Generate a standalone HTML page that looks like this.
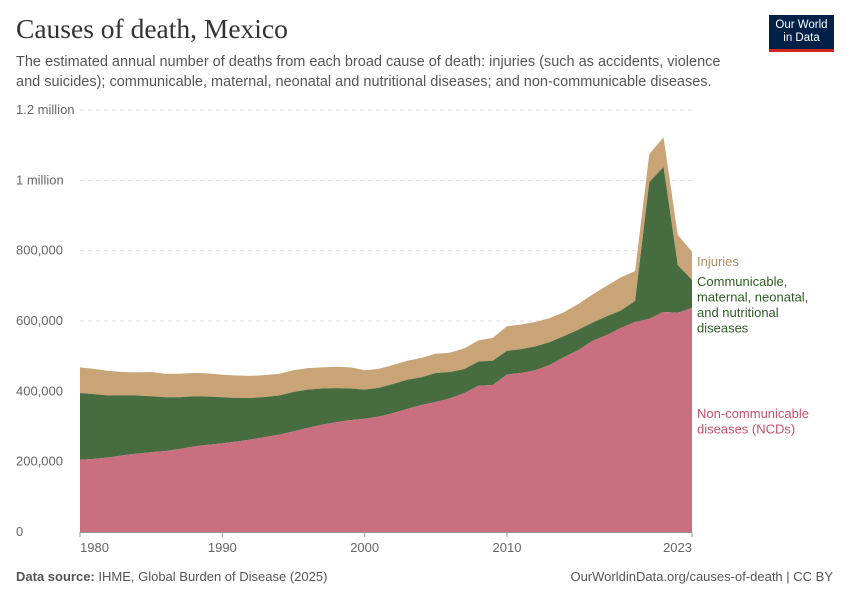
<!DOCTYPE html>
<html><head><meta charset="utf-8"><style>
body{margin:0;background:#fff;font-family:"Liberation Sans",sans-serif;}
#wrap{position:relative;width:850px;height:600px;overflow:hidden;}
.t{position:absolute;white-space:nowrap;}
</style></head><body>
<div id="wrap">
<div class="t" style="left:16px;top:13px;font-family:'Liberation Serif',serif;font-size:27.5px;color:#333;">Causes of death, Mexico</div>
<div class="t" style="left:16px;top:52px;font-size:14.5px;color:#555;line-height:20px;">The estimated annual number of deaths from each broad cause of death: injuries (such as accidents, violence<br>and suicides); communicable, maternal, neonatal and nutritional diseases; and non-communicable diseases.</div>
<div style="position:absolute;left:769px;top:15px;width:65px;height:37px;background:#002147;border-bottom:3px solid #ce261e;color:#fff;font-size:11.5px;line-height:13px;text-align:center;padding-top:4px;box-sizing:border-box;">Our World<br>in Data</div>
<svg id="chart" width="850" height="600" style="position:absolute;left:0;top:0"></svg>
<div class="t" style="left:16px;top:569px;font-size:13px;color:#555;"><b>Data source:</b> IHME, Global Burden of Disease (2025)</div>
<div class="t" style="right:17px;top:569px;font-size:13px;color:#555;">OurWorldinData.org/causes-of-death | CC BY</div>
</div>
<script>
const years=[1980,1981,1982,1983,1984,1985,1986,1987,1988,1989,1990,1991,1992,1993,1994,1995,1996,1997,1998,1999,2000,2001,2002,2003,2004,2005,2006,2007,2008,2009,2010,2011,2012,2013,2014,2015,2016,2017,2018,2019,2020,2021,2022,2023];
const ncd=[205,208,212,218,223,227,230,236,243,248,252,257,263,270,277,286,296,305,312,318,322,328,338,350,361,370,380,395,416,418,448,452,460,475,497,517,543,560,580,597,606,626,623,637];
const communicable=[190,184,176,171,165,159,153,147,143,137,131,124,118,114,111,112,109,103,97,90,83,82,83,83,79,82,75,68,69,69,67,68,68,65,60,58,52,53,50,60,389,412,136,80];
const injuries=[73,72,70,66,66,69,67,67,66,66,64,64,63,62,62,62,61,60,61,60,55,54,54,54,55,55,55,59,60,65,70,70,69,68,68,73,80,87,94,85,80,84,86,80];
const yTicks=[0,200000,400000,600000,800000,1000000,1200000];
const yTickLabels=["0","200,000","400,000","600,000","800,000","1 million","1.2 million"];
const xTicks=[1980,1990,2000,2010,2023];
const NS="http://www.w3.org/2000/svg";
const svg=document.getElementById('chart');
const X=y=>80+(y-1980)*(612/43);
const Y=v=>532-v*(422/1200000);
function mk(tag,attrs){const e=document.createElementNS(NS,tag);for(const k in attrs)e.setAttribute(k,attrs[k]);svg.appendChild(e);return e;}
yTicks.forEach((t,i)=>{
  if(t>0){const g=mk('line',{x1:80,x2:692,y1:Y(t),y2:Y(t),stroke:'#ddd','stroke-dasharray':'4,4'});
  
  }
  const tx=mk('text',{x:16,y:Y(t)+4,'font-size':13,fill:'#666','font-family':'Liberation Sans'});
  tx.textContent=yTickLabels[i];
  
  
});
const base=years.map(()=>0);
const l1=ncd.map(v=>v*1000);
const l2=l1.map((v,i)=>v+communicable[i]*1000);
const l3=l2.map((v,i)=>v+injuries[i]*1000);
function area(lo,hi,color,name){
  let d='M'+years.map((y,i)=>X(y)+','+Y(hi[i])).join('L');
  for(let i=years.length-1;i>=0;i--)d+='L'+X(years[i])+','+Y(lo[i]);
  const p=mk('path',{d:d+'Z',fill:color});
  
  
}
area(l2,l3,'#c8a477','injuries-area');
area(l1,l2,'#476c3f','communicable-area');
area(base,l1,'#ca6f80','ncd-area');
const ax=mk('line',{x1:80,x2:692,y1:532.5,y2:532.5,stroke:'#999'});


xTicks.forEach((t,i)=>{
  const tk=mk('line',{x1:X(t),x2:X(t),y1:532,y2:537,stroke:'#999'});
  
  
  const anchor=i===0?'start':(i===xTicks.length-1?'end':'middle');
  const tx=mk('text',{x:X(t),y:552,'font-size':13,fill:'#666','text-anchor':anchor,'font-family':'Liberation Sans'});
  tx.textContent=t;
  
  
});
function leg(lines,y0,color,name){
  const t=mk('text',{x:697,y:y0,'font-size':13,fill:color,'font-family':'Liberation Sans'});
  lines.forEach((s,i)=>{const ts=document.createElementNS(NS,'tspan');ts.setAttribute('x',697);ts.setAttribute('dy',i?15.5:0);ts.textContent=s;t.appendChild(ts);});
  
  
}
leg(['Injuries'],266,'#b38a5c','legend-injuries');
leg(['Communicable,','maternal, neonatal,','and nutritional','diseases'],286,'#2f5a26','legend-communicable');
leg(['Non-communicable','diseases (NCDs)'],418,'#c8506a','legend-ncd');
</script>
</body></html>
